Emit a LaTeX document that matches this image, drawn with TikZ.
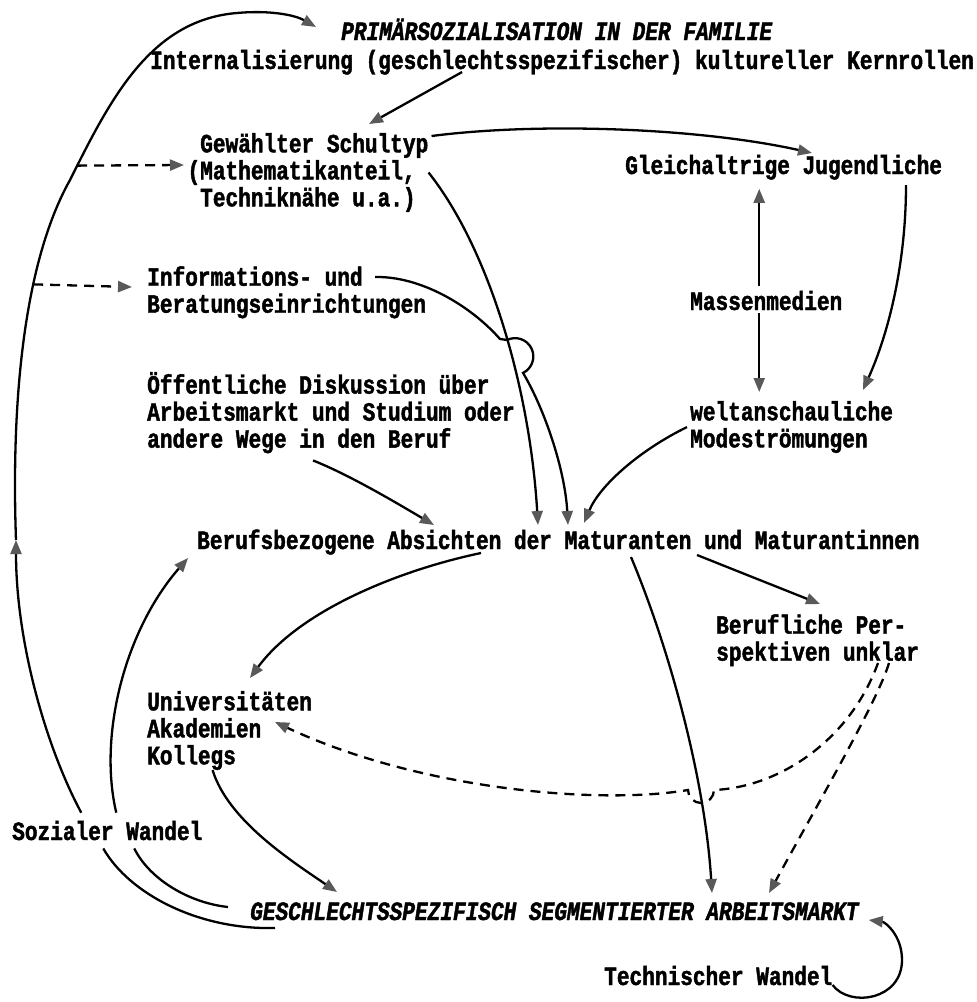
\documentclass[tikz,border=0pt]{standalone}
\usepackage{fontspec}
\newfontfamily\typefont[FakeStretch=0.8,FakeBold=1.6]{Liberation Mono}
\usetikzlibrary{arrows.meta}

\begin{document}
\begin{tikzpicture}
  [
    x=1pt,y=-1pt,
    txt/.style={inner sep=0pt,align=left,
      font=\typefont\bfseries\fontsize{26.4}{27}\selectfont},
    head/.style={txt,font=\typefont\bfseries\itshape\fontsize{26.4}{27}\selectfont},
    link/.style={-{Triangle[length=14pt,width=11pt,color=black!65]},line width=2.3pt},
    hint/.style={link,dash pattern=on 10pt off 7pt},
  ]
    \useasboundingbox (0,0) rectangle (977,1002);
    % texts
    \node [head,anchor=base west] (familie) at (341,40) {PRIMÄRSOZIALISATION IN DER FAMILIE};
    \node [txt,anchor=base west] (kernrollen) at (150,69) {Internalisierung (geschlechtsspezifischer) kultureller Kernrollen};
    \node [txt,anchor=north west] (schultyp) at (200,133) {Gewählter Schultyp\\\llap{(}Mathematikanteil,\\Techniknähe u.a.)};
    \node [txt,anchor=base west] (peers) at (625,174) {Gleichaltrige Jugendliche};
    \node [txt,anchor=north west] (beratung) at (147,266) {Informations- und\\Beratungseinrichtungen};
    \node [txt,anchor=base west] (medien) at (690,310) {Massenmedien};
    \node [txt,anchor=north west] (diskussion) at (147,372) {Öffentliche Diskussion über\\Arbeitsmarkt und Studium oder\\andere Wege in den Beruf};
    \node [txt,anchor=north west] (mode) at (690,401) {weltanschauliche\\Modeströmungen};
    \node [txt,anchor=base west] (absicht) at (197,549) {Berufsbezogene Absichten der Maturanten und Maturantinnen};
    \node [txt,anchor=north west] (unklar) at (716,614) {Berufliche Per-\\spektiven unklar};
    \node [txt,anchor=north west] (hochschule) at (147,691) {Universitäten\\Akademien\\Kollegs};
    \node [txt,anchor=base west] (sozial) at (12,840) {Sozialer Wandel};
    \node [head,anchor=base west] (markt) at (250,920) {GESCHLECHTSSPEZIFISCH SEGMENTIERTER ARBEITSMARKT};
    \node [txt,anchor=base west] (technik) at (604,985) {Technischer Wandel};
    % family and school
    \draw [link] ([shift={(-100,3)}]kernrollen.base) -- ([shift={(169,-9)}]schultyp.north west);
    \draw [link] ([shift={(3,3)}]schultyp.north east) .. controls (540,122) and (700,128) .. ([shift={(187,-21)}]peers.base west);
    \draw [link] (schultyp.east) .. controls (490,250) and (530,390) .. ([shift={(341,-24)}]absicht.base west);
    % counselling, with hop
    \draw [link] ([shift={(228,11)}]beratung.north west) .. controls (420,276) and (470,305) .. (500,339) -- (507,340)
      arc [start angle=116,end angle=-64,radius=18.3pt]
      .. controls (545,410) and (565,470) .. ([shift={(371,-24)}]absicht.base west);
    % mass media and peers
    \draw [link,shorten >=9pt,shorten <=5pt] ([xshift=-7pt]medien.north) -- ([xshift=-7pt]medien.north |- peers.south);
    \draw [link,shorten >=9pt,shorten <=3pt] ([xshift=-7pt]medien.south) -- ([xshift=-7pt]medien.south |- mode.north);
    \draw [link] ([shift={(281,11)}]peers.base west) .. controls (906,260) and (890,330) .. ([shift={(173,-11)}]mode.north west);
    \draw [link] ([xshift=-3pt]mode.west) .. controls (640,450) and (600,485) .. ([shift={(387,-26)}]absicht.base west);
    \draw [link] ([shift={(-18,7)}]diskussion.south) .. controls (350,475) and (400,505) .. ([shift={(237,-24)}]absicht.base west);
    % intentions
    \draw [link] ([shift={(284,4)}]absicht.base west) .. controls (400,570) and (300,610) .. ([shift={(103,-13)}]hochschule.north west);
    \draw [link] ([shift={(500,6)}]absicht.base west) -- ([shift={(104,-10)}]unklar.north west);
    \draw [link] ([shift={(434,8)}]absicht.base west) .. controls (670,650) and (705,780) .. ([shift={(462,-27)}]markt.base west);
    % unclear prospects
    \draw [hint] ([shift={(162,49)}]unklar.north west) .. controls (850,740) and (780,787) .. (714,790)
      arc [start angle=0,end angle=-180,radius=13pt]
      .. controls (600,805) and (420,790) .. ([shift={(128,31)}]hochschule.north west);
    \draw [hint] ([shift={(173,49)}]unklar.north west) .. controls (878,700) and (820,800) .. ([shift={(519,-27)}]markt.base west);
    \draw [link] ([xshift=-17pt]hochschule.south) .. controls (228,820) and (290,860) .. ([shift={(87,-28)}]markt.base west);
    % social change
    \draw [line width=2.3pt] ([shift={(-4,8)}]sozial.south) .. controls (130,895) and (200,930) .. ([shift={(25,8)}]markt.base west);
    \draw [line width=2.3pt] ([shift={(27,8)}]sozial.south) .. controls (150,880) and (190,903) .. ([shift={(-22,-13)}]markt.base west);
    \draw [link] ([shift={(-26,-8)}]sozial.north) .. controls (45,745) and (16,640) .. (16,540) coordinate (aufwaerts);
    \draw [link] (aufwaerts) .. controls (11,400) and (24,262) .. (70,180) coordinate[pos=0.65] (ruf1)
      .. controls (110,100) and (150,20) .. (237,13) coordinate[pos=0.06] (ruf2)
      .. controls (270,10) and (295,15) .. ([shift={(-25,-13)}]familie.base west);
    \draw [hint] (ruf2) -- ([shift={(-16,32)}]schultyp.north west);
    \draw [hint] (ruf1) -- ([shift={(-15,21)}]beratung.north west);
    \draw [link] ([shift={(9,-8)}]sozial.north) .. controls (98,735) and (125,630) .. ([shift={(-9,9)}]absicht.base west);
    % technical change
    \draw [link] (technik.base east) .. controls (850,1008) and (902,1000) .. (902,960)
      .. controls (902,935) and (885,922) .. ([xshift=10pt]markt.base east);
\end{tikzpicture}
\end{document}
